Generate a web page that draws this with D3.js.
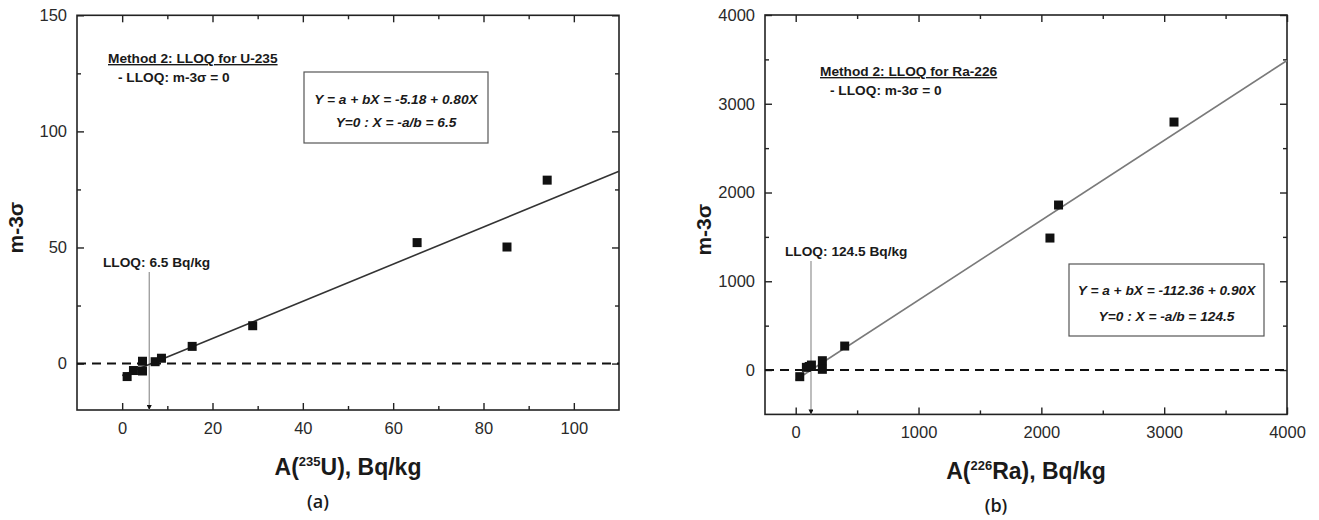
<!DOCTYPE html>
<html>
<head>
<meta charset="utf-8">
<script src="https://cdn.jsdelivr.net/npm/d3@7"></script>
<style>
  html, body { margin: 0; padding: 0; background: #fff; }
  svg { display: block; }
  text { font-family: "Liberation Sans", Arial, Helvetica, sans-serif; }
</style>
</head>
<body>
<script>
// ---------- Data: panel (a) U-235 ----------
const uX = [1.1, 2.5, 4.5, 4.5, 7.3, 8.7, 15.5, 28.9, 65.3, 85.2, 94.1];
const uY = [-5.6, -3.0, -3.2, 1.0, 0.8, 2.3, 7.4, 16.3, 52.1, 50.2, 79.0];
const uFit = [-5.18, 0.80];          // a, b
const uFitRange = [0, 110];
const uLLOQ = 6.0;                    // drawn arrow position
const uXTicks = [0, 20, 40, 60, 80, 100];
const uXMinor = [10, 30, 50, 70, 90];
const uYTicks = [0, 50, 100, 150];
const uYMinor = [25, 75, 125];
const uXDomain = [-10, 110];
const uYDomain = [-20, 150];

// ---------- Data: panel (b) Ra-226 ----------
const rX = [33, 87, 110, 128, 217, 217, 399, 2070, 2140, 3080];
const rY = [-75, 30, 40, 56, 105, 8, 270, 1487, 1859, 2794];
const rFit = [-112.36, 0.90];
const rFitRange = [0, 4000];
const rLLOQ = 124.5;
const rXTicks = [0, 1000, 2000, 3000, 4000];
const rXMinor = [500, 1500, 2500, 3500];
const rYTicks = [0, 1000, 2000, 3000, 4000];
const rYMinor = [500, 1500, 2500, 3500];
const rXDomain = [-250, 4000];
const rYDomain = [-500, 4000];

// ---------- Text ----------
const uTexts = {
  method: "Method 2: LLOQ for U-235",
  cond: "- LLOQ: m-3σ = 0",
  eq1: "Y = a + bX = -5.18 + 0.80X",
  eq2: "Y=0 : X = -a/b = 6.5",
  lloq: "LLOQ: 6.5 Bq/kg",
  xPre: "A(", xSup: "235", xPost: "U), Bq/kg",
  yTitle: "m-3σ",
  tag: "(a)"
};
const rTexts = {
  method: "Method 2: LLOQ for Ra-226",
  cond: "- LLOQ: m-3σ = 0",
  eq1: "Y = a + bX = -112.36 + 0.90X",
  eq2: "Y=0 : X = -a/b = 124.5",
  lloq: "LLOQ: 124.5 Bq/kg",
  xPre: "A(", xSup: "226", xPost: "Ra), Bq/kg",
  yTitle: "m-3σ",
  tag: "(b)"
};

const svg = d3.select("body").append("svg")
  .attr("width", 1319).attr("height", 520);

svg.append("defs").append("marker")
  .attr("id", "arrow").attr("viewBox", "0 0 10 10")
  .attr("refX", 10).attr("refY", 5)
  .attr("markerWidth", 5).attr("markerHeight", 5)
  .attr("markerUnits", "userSpaceOnUse")
  .attr("orient", "auto")
  .append("path").attr("d", "M0,0 L10,5 L0,10 Z").attr("fill", "#111");

function drawPanel(cfg) {
  const x = d3.scaleLinear().domain(cfg.xDomain).range([cfg.left, cfg.right]);
  const y = d3.scaleLinear().domain(cfg.yDomain).range([cfg.bottom, cfg.top]);
  const g = svg.append("g");
  const W = cfg.right - cfg.left, H = cfg.bottom - cfg.top;

  // frame
  g.append("rect").attr("x", cfg.left).attr("y", cfg.top)
    .attr("width", W).attr("height", H)
    .attr("fill", "none").attr("stroke", "#222").attr("stroke-width", 1.6);

  const styleAxis = sel => {
    sel.select(".domain").remove();
    sel.selectAll(".tick line").attr("stroke", "#222").attr("stroke-width", 1.4);
    sel.selectAll(".tick text").attr("fill", "#2a2a2a")
      .style("font-size", "16.5px").style("font-family", "'Liberation Sans', Arial, sans-serif");
  };

  // major axes
  g.append("g").attr("transform", `translate(0,${cfg.bottom})`)
    .call(d3.axisBottom(x).tickValues(cfg.xTicks).tickSize(-7).tickPadding(12).tickFormat(d3.format("d")))
    .call(styleAxis);
  g.append("g").attr("transform", `translate(0,${cfg.top})`)
    .call(d3.axisTop(x).tickValues(cfg.xTicks).tickSize(-7).tickFormat(""))
    .call(styleAxis);
  g.append("g").attr("transform", `translate(${cfg.left},0)`)
    .call(d3.axisLeft(y).tickValues(cfg.yTicks).tickSize(-7).tickPadding(10).tickFormat(d3.format("d")))
    .call(styleAxis);
  g.append("g").attr("transform", `translate(${cfg.right},0)`)
    .call(d3.axisRight(y).tickValues(cfg.yTicks).tickSize(-7).tickFormat(""))
    .call(styleAxis);
  // minor axes
  g.append("g").attr("transform", `translate(0,${cfg.bottom})`)
    .call(d3.axisBottom(x).tickValues(cfg.xMinor).tickSize(-4).tickFormat(""))
    .call(styleAxis);
  g.append("g").attr("transform", `translate(0,${cfg.top})`)
    .call(d3.axisTop(x).tickValues(cfg.xMinor).tickSize(-4).tickFormat(""))
    .call(styleAxis);
  g.append("g").attr("transform", `translate(${cfg.left},0)`)
    .call(d3.axisLeft(y).tickValues(cfg.yMinor).tickSize(-4).tickFormat(""))
    .call(styleAxis);
  g.append("g").attr("transform", `translate(${cfg.right},0)`)
    .call(d3.axisRight(y).tickValues(cfg.yMinor).tickSize(-4).tickFormat(""))
    .call(styleAxis);

  // dashed zero line
  g.append("line")
    .attr("x1", cfg.left).attr("x2", cfg.right)
    .attr("y1", y(0)).attr("y2", y(0))
    .attr("stroke", "#111").attr("stroke-width", 2)
    .attr("stroke-dasharray", "9,6");

  // LLOQ vertical arrow
  g.append("line")
    .attr("x1", x(cfg.lloq)).attr("x2", x(cfg.lloq))
    .attr("y1", cfg.lloqTop).attr("y2", cfg.bottom)
    .attr("stroke", "#9a9a9a").attr("stroke-width", 1.3)
    .attr("marker-end", "url(#arrow)");

  // fit line
  const fitPts = cfg.fitRange.map(v => [v, cfg.fit[0] + cfg.fit[1] * v]);
  g.append("path")
    .attr("d", d3.line().x(d => x(d[0])).y(d => y(d[1]))(fitPts))
    .attr("fill", "none").attr("stroke", cfg.lineColor).attr("stroke-width", 1.6);

  // points
  const s = 9;
  g.selectAll("rect.pt").data(cfg.xs.map((v, i) => [v, cfg.ys[i]]))
    .join("rect").attr("class", "pt")
    .attr("x", d => x(d[0]) - s / 2).attr("y", d => y(d[1]) - s / 2)
    .attr("width", s).attr("height", s).attr("fill", "#111");

  const T = cfg.texts;
  const ann = { "font-size": "13.7px", "font-weight": "bold", "fill": "#1a1a1a" };
  const applyAttrs = (sel, o) => { for (const k in o) sel.style(k, o[k]); return sel; };

  // method text
  applyAttrs(g.append("text").attr("x", cfg.left + cfg.methodDX).attr("y", cfg.methodY)
    .text(T.method).style("text-decoration", "underline"), ann);
  applyAttrs(g.append("text").attr("x", cfg.left + cfg.methodDX + 10).attr("y", cfg.methodY + 19)
    .text(T.cond), ann);

  // equation box
  g.append("rect").attr("x", cfg.box[0]).attr("y", cfg.box[1])
    .attr("width", cfg.box[2] - cfg.box[0]).attr("height", cfg.box[3] - cfg.box[1])
    .attr("fill", "#fff").attr("stroke", "#555").attr("stroke-width", 1.2);
  const bcx = (cfg.box[0] + cfg.box[2]) / 2;
  applyAttrs(g.append("text").attr("x", bcx).attr("y", cfg.eqY[0]).attr("text-anchor", "middle")
    .style("font-style", "italic").text(T.eq1), ann);
  applyAttrs(g.append("text").attr("x", bcx).attr("y", cfg.eqY[1]).attr("text-anchor", "middle")
    .style("font-style", "italic").text(T.eq2), ann);

  // LLOQ label
  applyAttrs(g.append("text").attr("x", cfg.lloqLabelX).attr("y", cfg.lloqTop - 5)
    .text(T.lloq), ann);

  // x title
  const xt = g.append("text").attr("x", (cfg.left + cfg.right) / 2).attr("y", cfg.bottom + 65)
    .attr("text-anchor", "middle")
    .style("font-size", "23px").style("font-weight", "bold").attr("fill", "#1a1a1a");
  xt.append("tspan").text(T.xPre);
  xt.append("tspan").text(T.xSup).attr("dy", -9).style("font-size", "13px");
  xt.append("tspan").text(T.xPost).attr("dy", 9);

  // y title
  g.append("text")
    .attr("transform", `translate(${cfg.left - 54},${(cfg.top + cfg.bottom) / 2 + 15}) rotate(-90)`)
    .attr("text-anchor", "middle")
    .style("font-size", "21px").style("font-weight", "bold").attr("fill", "#1a1a1a")
    .text(T.yTitle);

  // panel tag
  g.append("text").attr("x", (cfg.left + cfg.right) / 2 - 30).attr("y", cfg.bottom + 98)
    .attr("text-anchor", "middle")
    .style("font-family", "'Open Sans', 'Noto Sans', sans-serif")
    .style("font-size", "18px").style("font-weight", "600").attr("fill", "#1a1a1a")
    .text(T.tag);
}

drawPanel({
  left: 77, right: 619, top: 15.3, bottom: 410,
  xDomain: uXDomain, yDomain: uYDomain,
  xTicks: uXTicks, xMinor: uXMinor, yTicks: uYTicks, yMinor: uYMinor,
  xs: uX, ys: uY, fit: uFit, fitRange: uFitRange, lloq: uLLOQ,
  lloqTop: 272, lloqLabelX: 103, lineColor: "#333",
  methodDX: 31, methodY: 63,
  box: [304, 72, 488, 143], eqY: [104, 126.5],
  texts: uTexts
});

drawPanel({
  left: 765, right: 1287, top: 15, bottom: 414.4,
  xDomain: rXDomain, yDomain: rYDomain,
  xTicks: rXTicks, xMinor: rXMinor, yTicks: rYTicks, yMinor: rYMinor,
  xs: rX, ys: rY, fit: rFit, fitRange: rFitRange, lloq: rLLOQ,
  lloqTop: 261, lloqLabelX: 785, lineColor: "#7a7a7a",
  methodDX: 55, methodY: 76,
  box: [1069, 264, 1264, 336], eqY: [295, 321],
  texts: rTexts
});
</script>
</body>
</html>
